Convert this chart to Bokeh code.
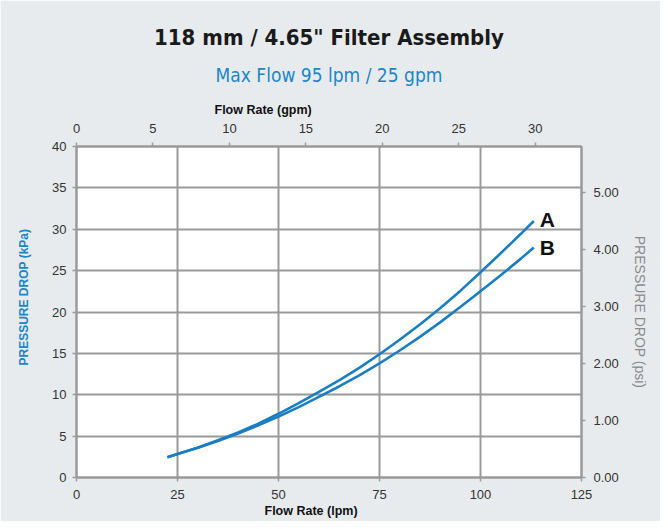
from bokeh.plotting import figure
from bokeh.models import (LinearAxis, Range1d, Title, FixedTicker, NumeralTickFormatter)
from bokeh.core.properties import value
from bokeh.embed import file_html
from bokeh.resources import INLINE

# Data (flow in lpm, pressure drop in kPa)
flow_a = [22.5, 25, 30, 35, 40, 45, 50, 55, 60, 65, 70, 75, 80, 85, 90, 95, 100, 105, 110, 113.2]
drop_a = [2.45, 2.85, 3.6, 4.5, 5.45, 6.5, 7.7, 9.0, 10.35, 11.75, 13.25, 14.9, 16.65, 18.5,
          20.45, 22.55, 24.8, 27.1, 29.45, 31.0]
flow_b = [22.5, 25, 30, 35, 40, 45, 50, 55, 60, 65, 70, 75, 80, 85, 90, 95, 100, 105, 110, 113.2]
drop_b = [2.45, 2.85, 3.6, 4.4, 5.3, 6.3, 7.35, 8.5, 9.75, 11.0, 12.35, 13.8, 15.35, 17.0,
          18.75, 20.6, 22.5, 24.45, 26.45, 27.8]

lpm_ticks = [0, 25, 50, 75, 100, 125]
kpa_ticks = [0, 5, 10, 15, 20, 25, 30, 35, 40]
gpm_ticks = [0, 5, 10, 15, 20, 25, 30]
psi_ticks = [0, 1, 2, 3, 4, 5]

LPM_PER_GPM = 3.785
KPA_PER_PSI = 6.895

BG = "#e8ebee"
GRID = "#9a9a9a"
BLUE = "#1a86c8"
CURVE = "#1b7ec3"
TICKC = "#333333"
FONT = "Liberation Sans"
COND = "DejaVu Sans Condensed"

p = figure(width=660, height=521, x_range=Range1d(0, 125), y_range=Range1d(0, 40),
           output_backend="svg", toolbar_location=None,
           min_border_left=76, min_border_right=79, min_border_top=146, min_border_bottom=44)
p.border_fill_color = BG
p.background_fill_color = "white"
p.outline_line_color = GRID
p.outline_line_width = 2

p.extra_x_ranges = {"gpm": Range1d(0, 125 / LPM_PER_GPM)}
p.extra_y_ranges = {"psi": Range1d(0, 40 / KPA_PER_PSI)}

def style_axis(ax, size="13px"):
    ax.axis_line_color = GRID
    ax.axis_line_width = 2
    ax.major_tick_line_color = GRID
    ax.major_tick_line_width = 1.5
    ax.major_tick_out = 4
    ax.major_tick_in = 0
    ax.minor_tick_line_color = None
    ax.major_label_text_font = FONT
    ax.major_label_text_font_size = size
    ax.major_label_text_color = TICKC

# bottom axis
xb = p.xaxis[0]
xb.ticker = FixedTicker(ticks=lpm_ticks)
style_axis(xb)
xb.major_label_standoff = 8

# left axis (blank label used as spacer before the kPa title)
yl = p.yaxis[0]
yl.ticker = FixedTicker(ticks=kpa_ticks)
style_axis(yl)
yl.major_label_standoff = 6
yl.axis_label = " "
yl.axis_label_text_font_size = "12px"
yl.axis_label_standoff = 0

# right axis
yr = LinearAxis(y_range_name="psi", ticker=FixedTicker(ticks=psi_ticks),
                formatter=NumeralTickFormatter(format="0.00"))
style_axis(yr)
yr.major_label_standoff = 8
yr.axis_label = "PRESSURE DROP (psi)"
yr.axis_label_text_font = FONT
yr.axis_label_text_font_style = "normal"
yr.axis_label_text_font_size = "14px"
yr.axis_label_text_color = "#8a8a8a"
yr.axis_label_standoff = 10
p.add_layout(yr, "right")

# top axis
xt = LinearAxis(x_range_name="gpm", ticker=FixedTicker(ticks=gpm_ticks))
style_axis(xt)
xt.major_label_standoff = 10
p.add_layout(xt, "above")

p.xgrid.ticker = FixedTicker(ticks=lpm_ticks)
p.ygrid.ticker = FixedTicker(ticks=kpa_ticks)
for g in (p.xgrid[0], p.ygrid[0]):
    g.grid_line_color = GRID
    g.grid_line_width = 2

# titles stacked from frame outward
t_gpm = Title(text="Flow Rate (gpm)", align="left", offset=138, text_font=FONT,
              text_font_style="bold", text_font_size="12.5px", text_color="#111111", standoff=7)
p.add_layout(t_gpm, "above")
t_sub = Title(text="Max Flow 95 lpm / 25 gpm", align="center", text_font=COND,
              text_font_style="normal", text_font_size="19px", text_color=BLUE, standoff=24)
p.add_layout(t_sub, "above")
t_main = Title(text="118 mm / 4.65\" Filter Assembly", align="center", text_font=COND,
               text_font_style="bold", text_font_size="22px", text_color="#1a1a1a", standoff=0)
p.add_layout(t_main, "above")

t_kpa = Title(text="PRESSURE DROP (kPa)", align="left", offset=112, text_font=FONT,
              text_font_style="bold", text_font_size="12px", text_color=BLUE, standoff=4)
p.add_layout(t_kpa, "left")

t_lpm = Title(text="Flow Rate (lpm)", align="left", offset=188, text_font=FONT,
              text_font_style="bold", text_font_size="12.5px", text_color="#111111", standoff=0)
p.add_layout(t_lpm, "below")

# curves
p.line(flow_a, drop_a, line_color=CURVE, line_width=2.6)
p.line(flow_b, drop_b, line_color=CURVE, line_width=2.6)

p.text(x=[flow_a[-1]], y=[drop_a[-1]], text=["A"], x_offset=6, y_offset=-1,
       text_font=value(FONT), text_font_style="bold", text_font_size="21px",
       text_align="left", text_baseline="middle", text_color="#111111")
p.text(x=[flow_b[-1]], y=[drop_b[-1]], text=["B"], x_offset=6, y_offset=0,
       text_font=value(FONT), text_font_style="bold", text_font_size="21px",
       text_align="left", text_baseline="middle", text_color="#111111")

open("out.html", "w").write(file_html(p, INLINE))
